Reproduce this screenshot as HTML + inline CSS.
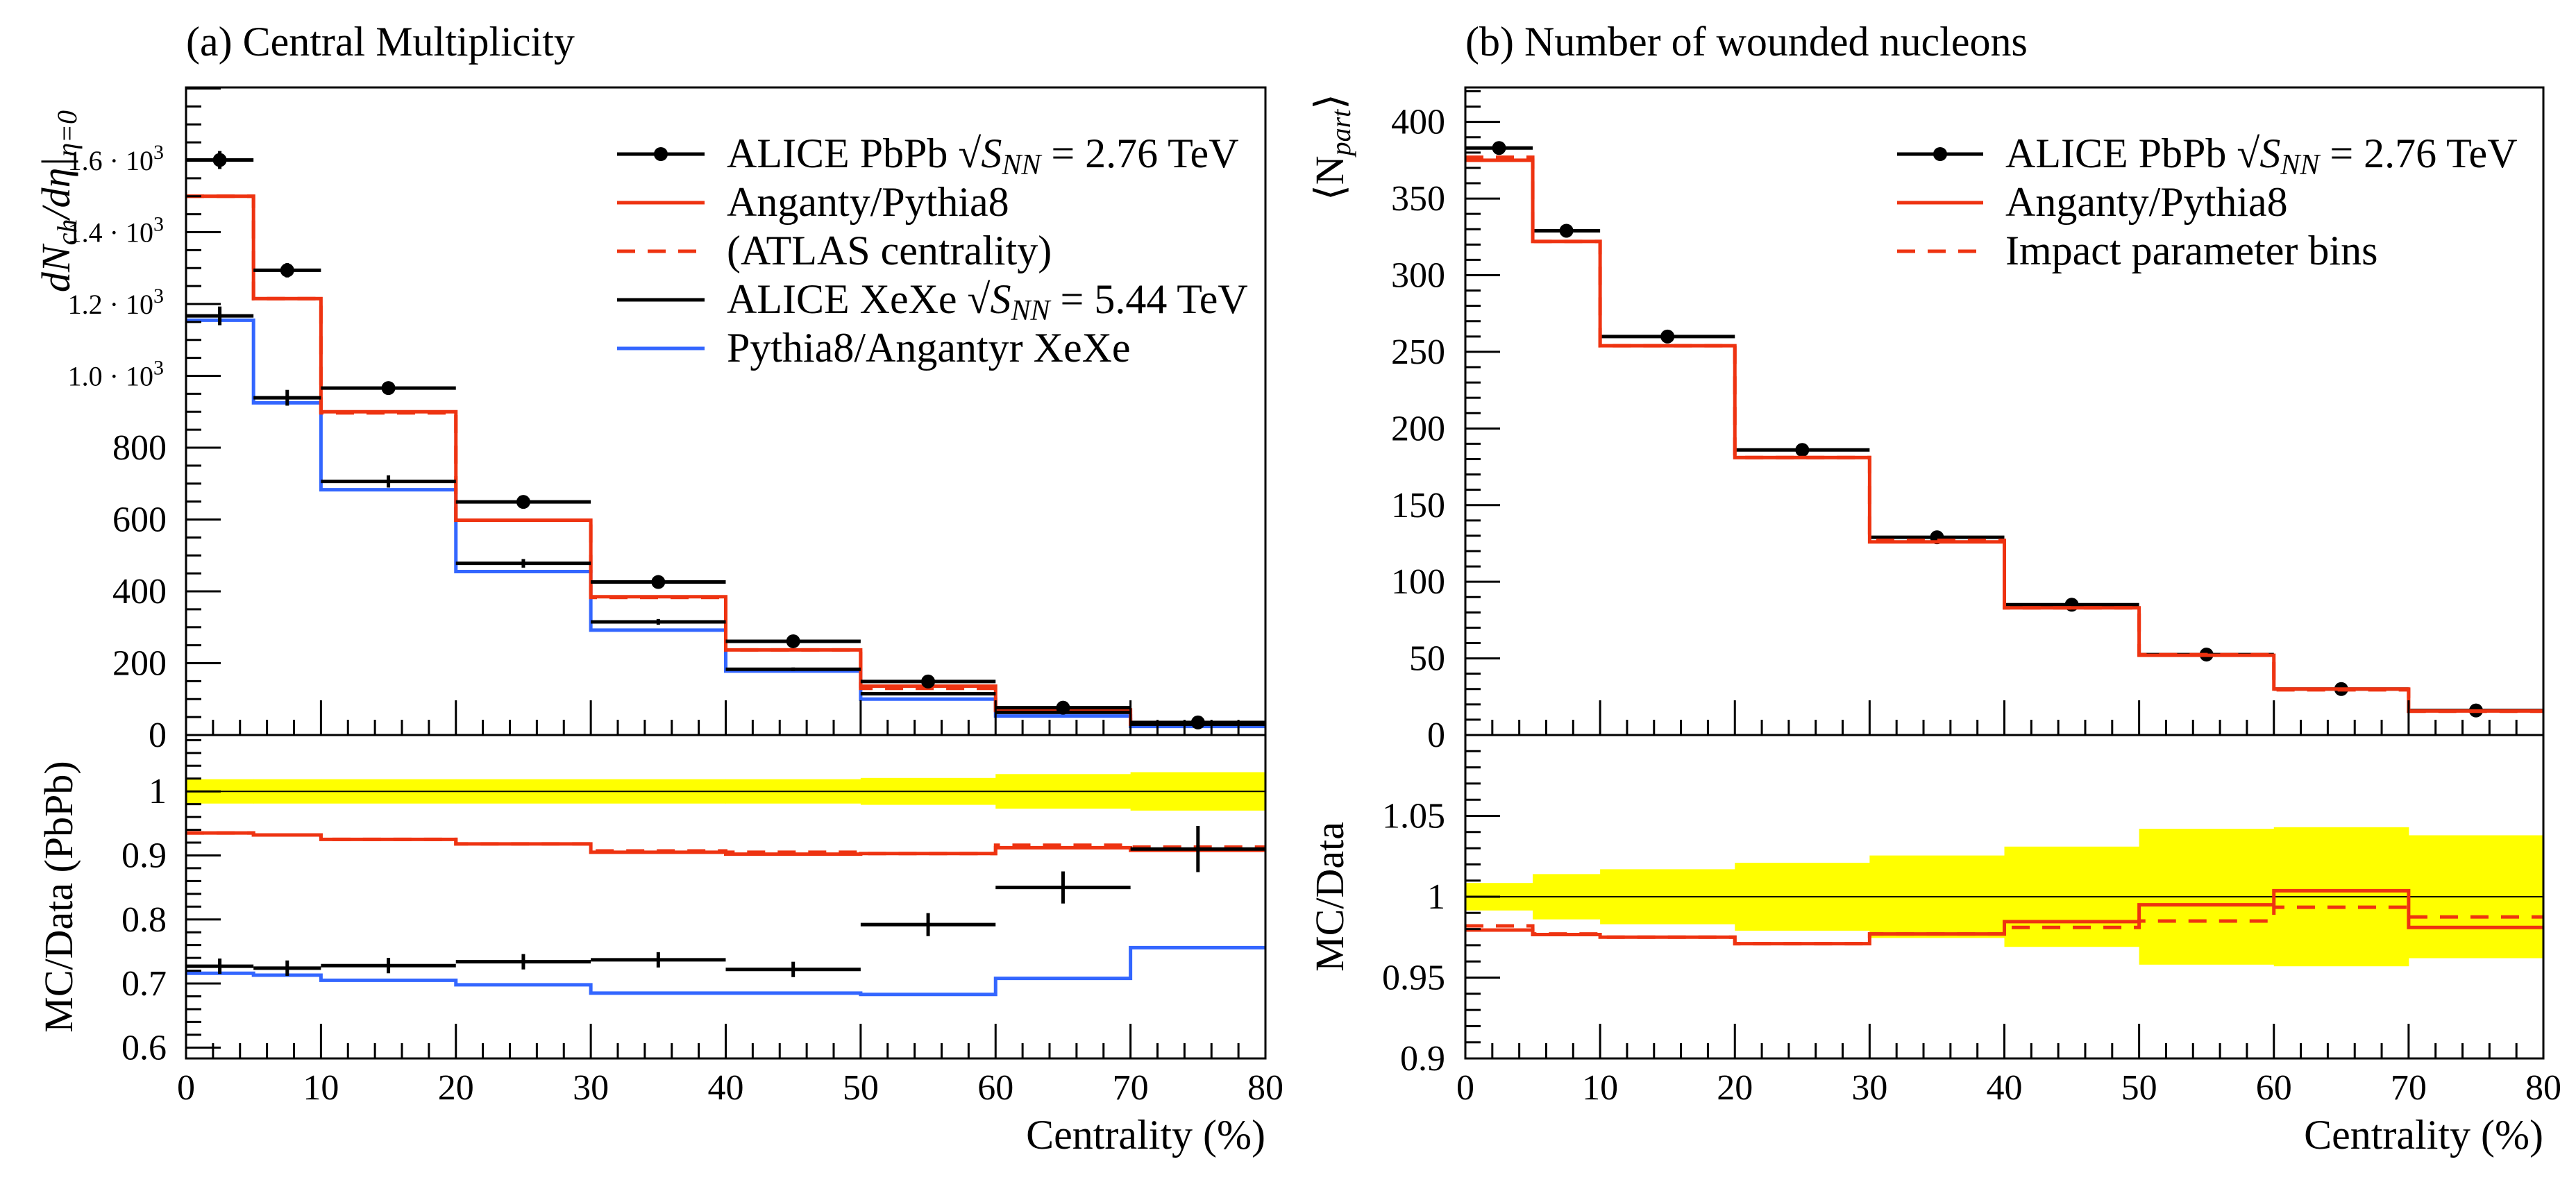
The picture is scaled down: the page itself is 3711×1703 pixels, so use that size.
<!DOCTYPE html>
<html><head><meta charset="utf-8"><style>
html,body{margin:0;padding:0;background:#fff}
svg, svg text{font-family:"Liberation Serif","DejaVu Serif",serif}
</style></head><body>
<svg id="c" width="3711" height="1698" viewBox="0 0 3711 1698" xmlns="http://www.w3.org/2000/svg" font-family="Liberation Serif, DejaVu Serif, serif">
<g id="g"></g>
</svg>
<script>
// ---- data ----
const binEdges = [0,5,10,20,30,40,50,60,70,80];
const xTickLabels = ["0","10","20","30","40","50","60","70","80"];
// panel (a)
const aliceMult = [1601,1294,966,649,426,261,149,76,35];
const aliceMultErr = [25,20,15,10,7,5,3,2,1];
const angMult = [1500,1215,900,598,385,237,136,70,30];
const angMultAtlas = [1500,1215,897,598,383,237,130,68,30];
const xexeMult = [1167,939,706,478,315,183,115,63,30];
const xexeMultErr = [26,22,17,12,8,5,3,2,1];
const pyXeMult = [1155,925,683,455,292,178,100,53,24];
const ratioBandA = [0.019,0.019,0.019,0.019,0.019,0.019,0.021,0.027,0.030];
const ratioAngA = [0.935,0.932,0.925,0.918,0.905,0.902,0.903,0.912,0.908];
const ratioAtlasA = [0.935,0.932,0.925,0.918,0.907,0.905,0.903,0.916,0.913];
const ratioXeData = [0.727,0.724,0.728,0.734,0.737,0.722,0.792,0.850,0.910];
const ratioXeErr = [0.012,0.012,0.012,0.012,0.012,0.012,0.018,0.025,0.036];
const ratioPyXe = [0.716,0.713,0.705,0.698,0.685,0.685,0.683,0.708,0.756];
// panel (b)
const aliceNpart = [383,329,260,186,129,85,52.5,30,16];
const angNpart = [375,322,254,181,126,83,52,30,15.7];
const impNpart = [377,322,254,181,127,83,52.5,29.5,15.5];
const ratioBandB = [0.0085,0.014,0.017,0.021,0.0255,0.031,0.042,0.043,0.038];
const ratioAngB = [0.9794,0.9766,0.975,0.971,0.977,0.9846,0.995,1.0037,0.981];
const ratioImpB = [0.982,0.977,0.975,0.971,0.977,0.981,0.985,0.9935,0.9875];
const yTicksA = [0,200,400,600,800,1000,1200,1400,1600];
const yTickLabelsA = ["0","200","400","600","800","1.0","1.2","1.4","1.6"];
const yTicksAR = [0.6,0.7,0.8,0.9,1.0];
const yTickLabelsAR = ["0.6","0.7","0.8","0.9","1"];
const yTicksB = [0,50,100,150,200,250,300,350,400];
const yTicksBR = [0.9,0.95,1.0,1.05];
const yTickLabelsBR = ["0.9","0.95","1","1.05"];

const NS="http://www.w3.org/2000/svg";
const root=document.getElementById('g');
function mk(tag,attrs,parent,text){const e=document.createElementNS(NS,tag);for(const k in attrs)e.setAttribute(k,attrs[k]);if(text!==undefined)e.textContent=text;(parent||root).appendChild(e);return e;}
const RED="#ee3311",BLUE="#3366ff";
const TOP=126,MID=1059,BOT=1525;
const FF="Liberation Serif, DejaVu Serif, serif";

function lin(d0,d1,p0,p1){return v=>p0+(v-d0)*(p1-p0)/(d1-d0);}

function histPath(xs,ys,vals){let d="";for(let i=0;i<vals.length;i++){const x0=xs(binEdges[i]),x1=xs(binEdges[i+1]),y=ys(vals[i]);d+=(i===0?"M"+x0+","+y:"L"+x0+","+y)+"L"+x1+","+y;}return d;}

function drawHist(g,xs,ys,vals,color,dash,name){
  const p=mk('path',{d:histPath(xs,ys,vals),fill:'none',stroke:color,'stroke-width':5,'stroke-dasharray':dash||'none'},g);
  
  
}
function drawPoints(g,xs,ys,vals,errs,marker,name){
  const grp=mk('g',{},g);
  
  
  for(let i=0;i<vals.length;i++){
    const x0=xs(binEdges[i]),x1=xs(binEdges[i+1]),xc=xs((binEdges[i]+binEdges[i+1])/2),y=ys(vals[i]);
    mk('line',{x1:x0,x2:x1,y1:y,y2:y,stroke:'#000','stroke-width':5},grp);
    const e=errs?errs[i]:0;
    if(e){mk('line',{x1:xc,x2:xc,y1:ys(vals[i]-e),y2:ys(vals[i]+e),stroke:'#000','stroke-width':5},grp);}
    if(marker){const c=mk('circle',{cx:xc,cy:y,r:10,fill:'#000'},grp);
      
      }
  }
}
function drawBand(g,xs,ys,half,name){
  const grp=mk('g',{},g);
  
  
  for(let i=0;i<half.length;i++){
    const x0=xs(binEdges[i]),x1=xs(binEdges[i+1]);
    mk('rect',{x:x0,y:ys(1+half[i]),width:x1-x0+0.5,height:ys(1-half[i])-ys(1+half[i]),fill:'#ffff00'},grp);
  }
}
function xAxisTicks(g,xs,yBase){
  for(let v=0;v<=80;v+=2){const major=v%10===0;const x=xs(v);
    mk('line',{x1:x,x2:x,y1:yBase,y2:yBase-(major?50:22),stroke:'#000','stroke-width':3},g);}
}
function yTicks(g,x0,ys,from,to,minor,majorStep){
  const n=Math.round((to-from)/minor);
  for(let i=0;i<=n;i++){const v=from+i*minor;const major=Math.abs(v/majorStep-Math.round(v/majorStep))<1e-6;
    const y=ys(v);mk('line',{x1:x0,x2:x0+(major?50:22),y1:y,y2:y,stroke:'#000','stroke-width':3},g);}
}

function panel(opts){
  const g=mk('g',{'font-family':FF});
  
  
  const xs=lin(0,80,opts.x0,opts.x1);
  const ysM=lin(opts.mMin,opts.mMax,MID,TOP);
  const ysR=lin(opts.rMin,opts.rMax,BOT,MID);
  drawBand(g,xs,ysR,opts.band,'ratio-uncertainty-band');
  const one=mk('line',{x1:opts.x0,x2:opts.x1,y1:ysR(1),y2:ysR(1),stroke:'#000','stroke-width':2},g);
  
  
  opts.draw(g,xs,ysM,ysR);
  const f1=mk('rect',{x:opts.x0,y:TOP,width:opts.x1-opts.x0,height:MID-TOP,fill:'none',stroke:'#000','stroke-width':3},g);
  
  
  const f2=mk('rect',{x:opts.x0,y:MID,width:opts.x1-opts.x0,height:BOT-MID,fill:'none',stroke:'#000','stroke-width':3},g);
  
  
  xAxisTicks(g,xs,MID);xAxisTicks(g,xs,BOT);
  yTicks(g,opts.x0,ysM,opts.mMin,opts.mTickTo,opts.mMinor,opts.mMajor);
  yTicks(g,opts.x0,ysR,opts.rTickFrom,opts.rTickTo,opts.rMinor,opts.rMajor);
  const xl=mk('g',{'font-size':52},g);
  
  
  xTickLabels.forEach((t,i)=>{mk('text',{x:xs(i*10),y:1584,'text-anchor':'middle'},xl,t);});
  const xt=mk('text',{x:opts.x1,y:1655,'text-anchor':'end','font-size':60},g,'Centrality (%)');
  
  
  const tt=mk('text',{x:opts.x0,y:80,'font-size':60},g,opts.title);
  
  
  opts.labels(g,ysM,ysR);
  return g;
}

panel({name:'panel-a-central-multiplicity',x0:268,x1:1823,mMin:0,mMax:1803,rMin:0.583,rMax:1.088,
  mTickTo:1800,mMinor:50,mMajor:200,rTickFrom:0.6,rTickTo:1.08,rMinor:0.02,rMajor:0.1,
  band:ratioBandA,title:'(a) Central Multiplicity',
  draw:(g,xs,ysM,ysR)=>{
    drawHist(g,xs,ysM,pyXeMult,BLUE,null,'pythia8-angantyr-xexe-hist');
    drawHist(g,xs,ysM,angMultAtlas,RED,'26,18','anganty-atlas-centrality-hist');
    drawHist(g,xs,ysM,angMult,RED,null,'anganty-pythia8-hist');
    drawPoints(g,xs,ysM,xexeMult,xexeMultErr,false,'alice-xexe-data');
    drawPoints(g,xs,ysM,aliceMult,aliceMultErr,true,'alice-pbpb-data');
    drawHist(g,xs,ysR,ratioPyXe,BLUE,null,'ratio-pythia8-xexe');
    drawHist(g,xs,ysR,ratioAtlasA,RED,'26,18','ratio-atlas-centrality');
    drawHist(g,xs,ysR,ratioAngA,RED,null,'ratio-anganty-pythia8');
    drawPoints(g,xs,ysR,ratioXeData,ratioXeErr,false,'ratio-alice-xexe');
  },
  labels:(g,ysM,ysR)=>{
    const yl=mk('g',{'text-anchor':'end'},g);
    
    
    yTicksA.forEach((v,i)=>{
      if(v>=1000){const t=mk('text',{x:236,y:ysM(v)+14,'font-size':40},yl);
        mk('tspan',{},t,yTickLabelsA[i]+' \u00b7 10');mk('tspan',{dy:-16,'font-size':30},t,'3');}
      else mk('text',{x:240,y:ysM(v)+17,'font-size':52},yl,yTickLabelsA[i]);
    });
    const yr=mk('g',{'text-anchor':'end','font-size':52},g);
    
    
    yTicksAR.forEach((v,i)=>mk('text',{x:240,y:ysR(v)+17},yr,yTickLabelsAR[i]));
    const t1=mk('text',{transform:'translate(100,290) rotate(-90)','text-anchor':'middle','font-size':58,'font-style':'italic'},g);
    
    
    mk('tspan',{},t1,'dN');mk('tspan',{'font-size':40,dy:10},t1,'ch');mk('tspan',{dy:-10},t1,'/d\u03b7|');mk('tspan',{'font-size':40,dy:10},t1,'\u03b7=0');
    const t2=mk('text',{transform:'translate(104,1292) rotate(-90)','text-anchor':'middle','font-size':58},g,'MC/Data (PbPb)');
    
    
  }
});

panel({name:'panel-b-wounded-nucleons',x0:2111,x1:3664,mMin:0,mMax:422.5,rMin:0.9,rMax:1.1,
  mTickTo:420,mMinor:10,mMajor:50,rTickFrom:0.9,rTickTo:1.1,rMinor:0.01,rMajor:0.05,
  band:ratioBandB,title:'(b) Number of wounded nucleons',
  draw:(g,xs,ysM,ysR)=>{
    drawPoints(g,xs,ysM,aliceNpart,null,true,'alice-pbpb-npart-data');
    drawHist(g,xs,ysM,impNpart,RED,'26,18','impact-parameter-bins-hist');
    drawHist(g,xs,ysM,angNpart,RED,null,'anganty-pythia8-npart-hist');
    drawHist(g,xs,ysR,ratioImpB,RED,'26,18','ratio-impact-parameter');
    drawHist(g,xs,ysR,ratioAngB,RED,null,'ratio-anganty-npart');
  },
  labels:(g,ysM,ysR)=>{
    const yl=mk('g',{'text-anchor':'end','font-size':52},g);
    
    
    yTicksB.forEach(v=>mk('text',{x:2082,y:ysM(v)+17},yl,String(v)));
    const yr=mk('g',{'text-anchor':'end','font-size':52},g);
    
    
    yTicksBR.forEach((v,i)=>mk('text',{x:2082,y:ysR(v)+17},yr,yTickLabelsBR[i]));
    const t1=mk('text',{transform:'translate(1935,212) rotate(-90)','text-anchor':'middle','font-size':58,'font-style':'italic'},g);
    
    
    mk('tspan',{'font-style':'normal'},t1,'\u27e8N');mk('tspan',{'font-size':40,dy:10},t1,'part');mk('tspan',{dy:-10,'font-style':'normal'},t1,'\u27e9');
    const t2=mk('text',{transform:'translate(1935,1292) rotate(-90)','text-anchor':'middle','font-size':58},g,'MC/Data');
    
    
  }
});

function legend(x0,x1,tx,y0,entries,name){
  const g=mk('g',{'font-family':FF});
  
  
  entries.forEach((e,i)=>{
    const y=y0+i*70;
    const eg=mk('g',{},g);
    
    
    mk('line',{x1:x0,x2:x1,y1:y,y2:y,stroke:e.c,'stroke-width':5,'stroke-dasharray':e.dash||'none'},eg);
    if(e.m)mk('circle',{cx:(x0+x1)/2,cy:y,r:10,fill:'#000'},eg);
    const t=mk('text',{x:tx,y:y+19,'font-size':60},eg);
    e.parts.forEach(p=>{mk('tspan',p.a||{},t,p.t);});
  });
  return g;
}
const sq=(label,val)=>[{t:label+' \u221a'},{t:'S',a:{'font-style':'italic'}},{t:'NN',a:{'font-style':'italic','font-size':42,dy:10}},{t:' = '+val,a:{dy:-10}}];
legend(889,1015,1047,222,[
  {c:'#000',m:true,parts:sq('ALICE PbPb','2.76 TeV')},
  {c:RED,parts:[{t:'Anganty/Pythia8'}]},
  {c:RED,dash:'26,18',parts:[{t:'(ATLAS centrality)'}]},
  {c:'#000',parts:sq('ALICE XeXe','5.44 TeV')},
  {c:BLUE,parts:[{t:'Pythia8/Angantyr XeXe'}]}
],'legend-panel-a');
legend(2733,2857,2889,222,[
  {c:'#000',m:true,parts:sq('ALICE PbPb','2.76 TeV')},
  {c:RED,parts:[{t:'Anganty/Pythia8'}]},
  {c:RED,dash:'26,18',parts:[{t:'Impact parameter bins'}]}
],'legend-panel-b');
</script>
</body></html>
